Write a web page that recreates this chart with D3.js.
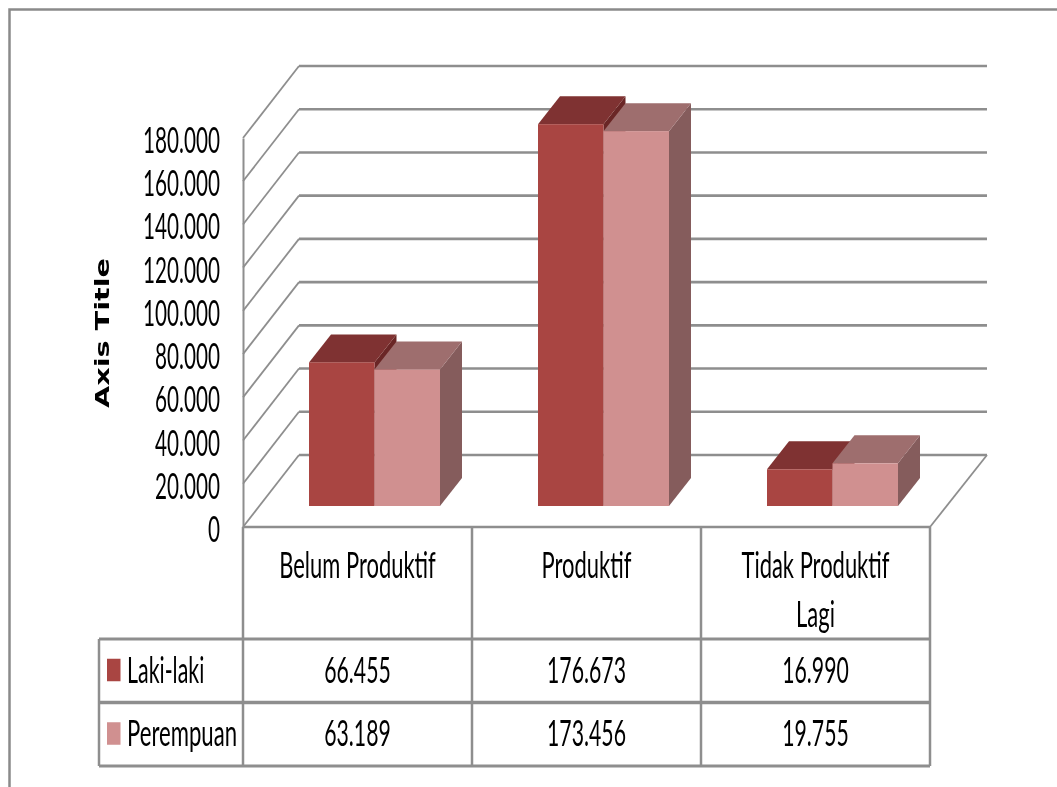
<!DOCTYPE html>
<html><head><meta charset="utf-8">
<script src="https://cdn.jsdelivr.net/npm/d3@7"></script>
<style>html,body{margin:0;padding:0;background:#fff;overflow:hidden}svg{display:block}</style>
</head><body><svg id="c" width="1057" height="787"></svg>
<script>
const categories = ["Belum Produktif", "Produktif", "Tidak Produktif Lagi"];
const categoryLines = [["Belum Produktif"], ["Produktif"], ["Tidak Produktif", "Lagi"]];
const seriesNames = ["Laki-laki", "Perempuan"];
const lakiLaki = [66455, 176673, 16990];
const perempuan = [63189, 173456, 19755];
const tickValues = [0, 20000, 40000, 60000, 80000, 100000, 120000, 140000, 160000, 180000];
const axisTitle = "Axis Title";
const seriesValues = [lakiLaki, perempuan];

const colors = [
  {front:"#a94542", top:"#7f3230", side:"#6b2725"},
  {front:"#d09090", top:"#9e6e6e", side:"#855c5c"}
];
const FONT = "Lato", SIZE = 36, SX_TICK = 0.575, SX = 0.59, SX_WORD = 0.61, SX_LEGEND = [0.595, 0.615], GRID = "#8e8e8e";
const wallDx = 56, wallDy = -72, barDx = 22, barDy = -28, floorInset = 21;

const svg = d3.select("#c");
svg.append("defs").append("filter").attr("id","soft")
  .attr("filterUnits","userSpaceOnUse").attr("x",0).attr("y",0)
  .attr("width",1057).attr("height",787)
  .append("feGaussianBlur").attr("stdDeviation",0.45);
const root = svg.append("g").attr("filter","url(#soft)");
root.append("rect").attr("width",1057).attr("height",787).attr("fill","#fff");

const y = d3.scaleLinear().domain([0,180000]).range([527,138]);
const x0 = d3.scaleBand().domain(categories).range([243,930]);
const x1 = d3.scaleBand().domain(seriesNames).range([66,197]);
const row = d3.scaleBand().domain(seriesNames).range([639,766]);
const fmt = d3.formatLocale({decimal:",",thousands:".",grouping:[3],currency:["",""]}).format(",");

function label(g, px, py, str, anchor, sx=SX){
  return g.append("text").attr("transform",`translate(${px},${py}) scale(${sx},1)`)
    .attr("text-anchor",anchor).attr("font-family",FONT).attr("font-size",SIZE).attr("fill","#000").text(str);
}
function line(g,a,b,c,d,w=2.5){
  return g.append("line").attr("x1",a).attr("y1",b).attr("x2",c).attr("y2",d).attr("stroke",GRID).attr("stroke-width",w);
}

// outer frame
root.append("path").attr("d","M9.5,787V9.5H1057").attr("fill","none").attr("stroke","#8a8a8a").attr("stroke-width",2.5);

// walls and gridlines
const walls = root.append("g");
tickValues.forEach(v=>{
  walls.append("line").attr("x1",243).attr("y1",y(v)).attr("x2",243+wallDx).attr("y2",y(v)+wallDy)
    .attr("stroke",GRID).attr("stroke-width",1.8);
  line(walls,243+wallDx,y(v)+wallDy,987,y(v)+wallDy,2.6);
});
line(walls,987,y(0)+wallDy,930,y(0),1.8);
line(walls,243,y(0),930,y(0),2.4);

// axis
const axis = root.append("g").attr("transform","translate(243,0)")
  .call(d3.axisLeft(y).tickValues(tickValues).tickFormat(fmt).tickSize(0).tickPadding(0));
axis.select(".domain").attr("stroke",GRID).attr("stroke-width",2);
axis.selectAll("text").attr("font-family",FONT).attr("font-size",SIZE).attr("fill","#000")
  .attr("text-anchor","end").attr("x",0).attr("dy",null).attr("y",0)
  .attr("transform",`translate(-23,14.5) scale(${SX_TICK},1)`);

// 3D bars
const barsG = root.append("g");
categories.forEach((cat,i)=>{
  seriesNames.forEach((s,j)=>{
    const v = seriesValues[j][i], c = colors[j];
    const xl = x0(cat)+x1(s), xr = xl+x1.bandwidth();
    const yt = y(v)-floorInset, yb = y(0)-floorInset;
    const poly = pts=>barsG.append("polygon").attr("points",pts.map(p=>p.join(",")).join(" "));
    poly([[xr,yt],[xr+barDx,yt+barDy],[xr+barDx,yb+barDy],[xr,yb]]).attr("fill",c.side);
    poly([[xl,yt],[xl+barDx,yt+barDy],[xr+barDx,yt+barDy],[xr,yt]]).attr("fill",c.top);
    barsG.append("rect").attr("x",xl).attr("y",yt).attr("width",xr-xl).attr("height",yb-yt).attr("fill",c.front);
  });
});

// axis title
root.append("text").attr("transform","translate(109,333) rotate(-90)")
  .attr("text-anchor","middle").attr("font-family","DejaVu Sans").attr("font-weight","bold")
  .attr("font-size",20).attr("textLength",150).attr("lengthAdjust","spacingAndGlyphs").text(axisTitle);

// data table
const table = root.append("g");
const [tx0,tx1] = x0.range();
line(table,99,row(seriesNames[0]),tx1,row(seriesNames[0]),3);
line(table,99,row(seriesNames[1]),tx1,row(seriesNames[1]),3.5);
line(table,99,row.range()[1],tx1,row.range()[1],3.2);
line(table,99,row.range()[0],99,row.range()[1]);
[tx0,...categories.slice(1).map(c=>x0(c)),tx1].forEach(px=>line(table,px,y(0),px,row.range()[1]));
categories.forEach((cat,i)=>{
  const cx = x0(cat)+x0.bandwidth()/2;
  categoryLines[i].forEach((t,k)=>label(table,cx,578+k*49,t,"middle",SX_WORD));
  seriesNames.forEach((s,j)=>label(table,cx,row(s)+row.bandwidth()/2+12,fmt(seriesValues[j][i]),"middle"));
});
seriesNames.forEach((s,j)=>{
  const m = row(s)+row.bandwidth()/2;
  table.append("rect").attr("x",107).attr("y",m-12).attr("width",13.5).attr("height",22.5).attr("fill",colors[j].front);
  label(table,127,m+12,s,"start",SX_LEGEND[j]);
});
</script></body></html>
